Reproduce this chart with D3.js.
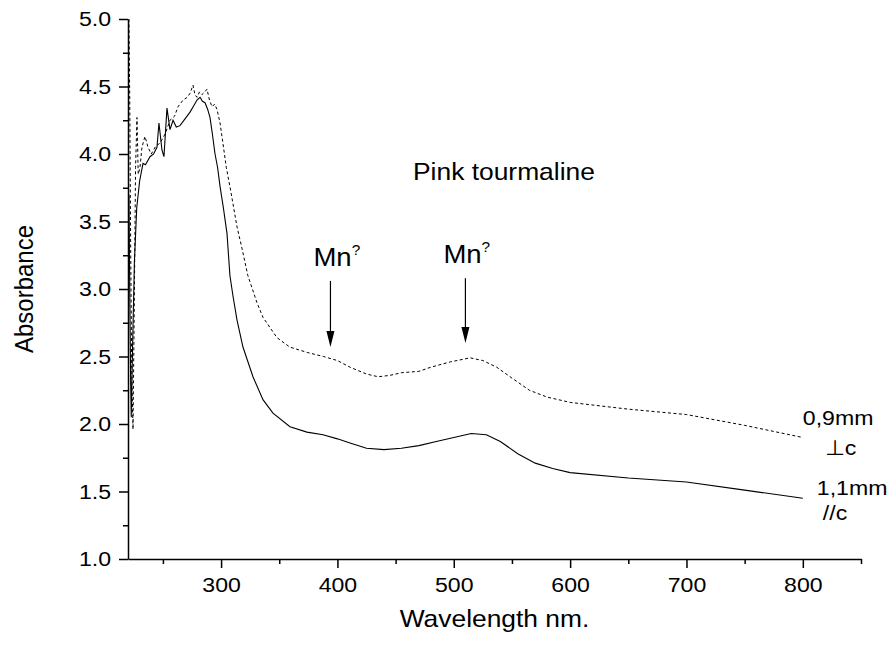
<!DOCTYPE html>
<html>
<head>
<meta charset="utf-8">
<script src="https://cdn.jsdelivr.net/npm/d3@7"></script>
<style>
  body { margin: 0; background: #fff; }
  svg text { font-family: "Liberation Sans", Arial, sans-serif; fill: #000; }
  .axis path, .axis line { stroke: #000; stroke-width: 1.5; }
</style>
</head>
<body>
<div class="chart"></div>
<script>
// wavelength (nm), absorbance
var perpC = [
  [220.8, 5.0], [221.5, 4.4], [222.3, 3.3], [223.2, 2.4], [224.3, 1.96], [225.3, 2.8],
  [226.5, 3.9], [227.7, 4.27], [228.8, 3.85], [230.3, 3.9], [232, 4.05], [234.6, 4.13],
  [237.2, 4.05], [240, 4.0], [244, 4.06], [247.5, 4.08], [252, 4.15], [256.1, 4.25],
  [260, 4.28], [263, 4.35], [267.3, 4.4], [271, 4.42], [273.3, 4.45], [275.9, 4.51],
  [277.5, 4.44], [279.3, 4.42], [281.5, 4.46], [283.6, 4.44], [286, 4.46], [287.9, 4.48],
  [290, 4.4], [292.2, 4.35], [294.5, 4.37], [296.5, 4.33], [299.1, 4.23], [301.6, 4.08],
  [304.5, 3.9], [307.6, 3.76], [313.7, 3.46], [318, 3.3], [323, 3.1], [330.8, 2.9],
  [336, 2.79], [348, 2.64], [359, 2.57], [374, 2.53], [388, 2.5], [400, 2.47],
  [411, 2.42], [425, 2.37], [435, 2.35], [445, 2.36], [455, 2.38], [470, 2.39],
  [480, 2.42], [497, 2.46], [514, 2.49], [525, 2.47], [537, 2.42], [550, 2.34],
  [565, 2.25], [580, 2.2], [600, 2.16], [650, 2.11], [700, 2.07], [750, 1.99], [800, 1.9]
];

var paraC = [
  [220.8, 3.7], [221.5, 3.0], [222.3, 2.3], [222.8, 2.05], [224, 2.6], [225.5, 3.2],
  [227.5, 3.6], [230, 3.8], [232.9, 3.93], [235, 3.92], [238.9, 3.98], [242, 4.0],
  [244.9, 4.05], [246.6, 4.23], [249.2, 4.03], [250.9, 3.98], [253.5, 4.34], [256.1, 4.18],
  [258.7, 4.25], [261.5, 4.2], [264.7, 4.21], [269, 4.26], [273.3, 4.31], [276, 4.35],
  [279.3, 4.4], [281.9, 4.42], [284, 4.39], [286.2, 4.38], [288.5, 4.33], [290.5, 4.27],
  [292.5, 4.15], [294.8, 4.0], [297, 3.9], [299.1, 3.76], [302, 3.6], [305.1, 3.41],
  [307.6, 3.1], [310.2, 2.95], [313.7, 2.77], [318.8, 2.57], [327.4, 2.35], [336, 2.18],
  [344.6, 2.08], [359.2, 1.98], [373.8, 1.94], [387.6, 1.92], [400, 1.89], [410.8, 1.86],
  [425, 1.82], [440, 1.81], [455, 1.82], [470, 1.84], [485, 1.87], [500, 1.9],
  [515, 1.93], [528, 1.92], [540, 1.87], [555, 1.78], [570, 1.71], [585, 1.67],
  [600, 1.64], [650, 1.6], [700, 1.57], [750, 1.51], [800, 1.45]
];

var xTicks = [300, 400, 500, 600, 700, 800];
var xMinor = [250, 350, 450, 550, 650, 750, 850];
var yTicks = [1.0, 1.5, 2.0, 2.5, 3.0, 3.5, 4.0, 4.5, 5.0];
var yMinor = [1.25, 1.75, 2.25, 2.75, 3.25, 3.75, 4.25, 4.75];

// arrows: wavelength, top and tip absorbance
var peaks = [
  {wl: 394, top: 3.06, tip: 2.57, dx: -17},
  {wl: 510, top: 3.08, tip: 2.60, dx: -22}
];

var W = 890, H = 653;
var margin = {top: 19, right: 29, bottom: 94, left: 128};
var SX = 1.1; // glyphs in the picture are a little wide

var svg = d3.select(".chart").append("svg")
  .attr("width", W)
  .attr("height", H);

var x = d3.scaleLinear().domain([220, 850]).range([margin.left, W - margin.right]);
var y = d3.scaleLinear().domain([1, 5]).range([H - margin.bottom, margin.top]);

function label(px, py, size, txt, anchor) {
  return svg.append("text")
    .attr("transform", "translate(" + px + "," + py + ") scale(" + SX + ",1)")
    .style("font-size", size + "px")
    .style("text-anchor", anchor || "start")
    .text(txt);
}

// minor ticks
svg.append("g")
  .attr("class", "axis")
  .attr("transform", "translate(0," + y(1) + ")")
  .call(d3.axisBottom(x).tickValues(xMinor).tickSize(5).tickFormat(""))
  .select(".domain").remove();

svg.append("g")
  .attr("class", "axis")
  .attr("transform", "translate(" + x(220) + ",0)")
  .call(d3.axisLeft(y).tickValues(yMinor).tickSize(5).tickFormat(""))
  .select(".domain").remove();

// X
var gx = svg.append("g")
  .attr("class", "axis")
  .attr("transform", "translate(0," + y(1) + ")")
  .call(d3.axisBottom(x).tickValues(xTicks).tickSize(9).tickSizeOuter(0).tickPadding(9));
gx.selectAll("text")
  .style("font-size", "21px")
  .attr("transform", "scale(" + SX + ",1)");

// Y
var gy = svg.append("g")
  .attr("class", "axis")
  .attr("transform", "translate(" + x(220) + ",0)")
  .call(d3.axisLeft(y).tickValues(yTicks).tickSize(9).tickSizeOuter(0)
    .tickFormat(d3.format(".1f")));
gy.selectAll("text")
  .style("font-size", "21px")
  .attr("x", -17 / SX)
  .attr("transform", "scale(" + SX + ",1)");

// Data
var line = d3.line()
  .x(function(d) { return x(d[0]); })
  .y(function(d) { return y(d[1]); });

svg.append("path")
  .datum(perpC)
  .attr("d", line)
  .style("fill", "none")
  .style("stroke", "#000")
  .style("stroke-width", 1)
  .style("stroke-dasharray", "3,2.5");

svg.append("path")
  .datum(paraC)
  .attr("d", line)
  .style("fill", "none")
  .style("stroke", "#000")
  .style("stroke-width", 1.1);

// arrows
peaks.forEach(function(p) {
  var px = x(p.wl);
  svg.append("line")
    .attr("x1", px).attr("x2", px)
    .attr("y1", y(p.top)).attr("y2", y(p.tip) - 14)
    .style("stroke", "#000").style("stroke-width", 1.2);
  svg.append("path")
    .attr("d", "M" + (px - 4) + "," + (y(p.tip) - 16) + " L" + (px + 4) + "," + (y(p.tip) - 16) + " L" + px + "," + y(p.tip) + " Z")
    .style("fill", "#000");
  var t = label(px + p.dx, y(p.top) - 15, 25, null);
  t.append("tspan").text("Mn");
  t.append("tspan").attr("dy", -11).style("font-size", "14px").text("?");
});

label(413, 180, 24, "Pink tourmaline");

// curve labels
var curveLabels = [
  {t: "0,9mm", dx: 0, y: 425},
  {t: "\u22A5c", dx: 22, y: 455},
  {t: "1,1mm", dx: 14, y: 495},
  {t: "//c", dx: 20, y: 520}
];
curveLabels.forEach(function(l) {
  label(x(800) + l.dx, l.y, 21, l.t);
});

// axis titles
label((x(220) + x(850)) / 2, 627, 24, "Wavelength nm.", "middle");

svg.append("text")
  .attr("transform", "translate(33," + ((y(1) + y(5)) / 2) + ") rotate(-90) scale(1," + SX + ")")
  .style("text-anchor", "middle")
  .style("font-size", "24px")
  .text("Absorbance");
</script>
</body>
</html>
